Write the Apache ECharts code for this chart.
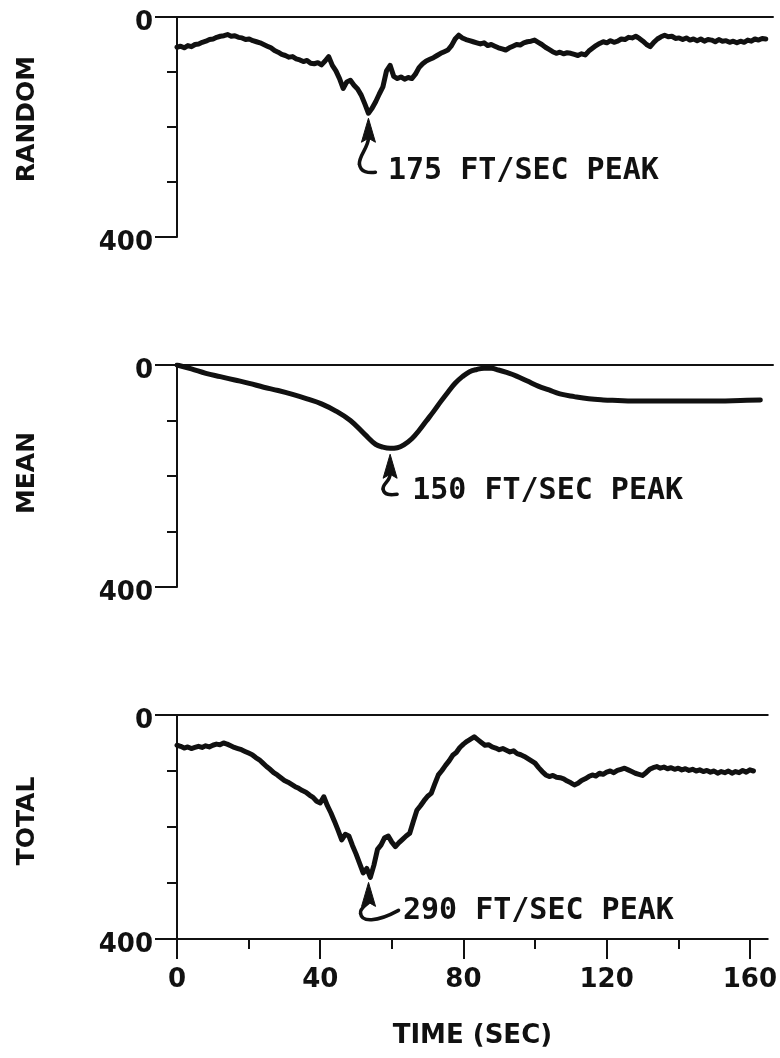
<!DOCTYPE html>
<html>
<head>
<meta charset="utf-8">
<script src="https://cdn.jsdelivr.net/npm/echarts@6/dist/echarts.min.js"></script>
<style>
  html, body { margin: 0; padding: 0; background: #fff; }
  #chart { width: 780px; height: 1058px; }
</style>
</head>
<body>
<div id="chart"></div>
<script>
// Velocity traces (ft/sec), one sample per second starting at t = 0
const SAMPLE_SEC = 1;

const randomVel = [
  55, 53, 56, 52, 54, 50, 49, 46, 44, 41, 40, 37, 35, 34, 32, 35, 34, 37, 38, 41,
  40, 43, 45, 47, 50, 53, 56, 61, 64, 68, 70, 73, 72, 76, 78, 81, 79, 84, 85, 83,
  87, 80, 72, 88, 98, 112, 130, 118, 115, 124, 131, 142, 158, 175, 166, 154, 140, 127, 98, 88,
  108, 112, 109, 113, 110, 112, 104, 92, 85, 80, 77, 74, 70, 66, 63, 60, 52, 40, 33, 38,
  41, 43, 45, 47, 49, 47, 52, 50, 53, 56, 58, 60, 56, 53, 50, 51, 47, 45, 44, 42,
  46, 50, 55, 59, 63, 66, 64, 67, 65, 66, 68, 70, 67, 69, 62, 57, 52, 48, 45, 47,
  43, 46, 44, 40, 41, 37, 38, 35, 39, 44, 50, 54, 46, 40, 36, 33, 36, 35, 39, 38,
  41, 38, 42, 40, 43, 40, 44, 41, 42, 45, 41, 44, 43, 46, 44, 47, 44, 46, 42, 44,
  40, 42, 39, 40
];

const totalVel = [
  54, 56, 59, 57, 60, 58, 56, 58, 55, 57, 54, 52, 53, 50, 52, 55, 58, 60, 62, 65,
  68, 71, 76, 80, 86, 92, 97, 103, 107, 112, 117, 120, 124, 128, 131, 135, 138, 143, 147, 154,
  157, 146, 162, 175, 190, 206, 223, 213, 216, 233, 248, 265, 282, 274, 290, 268, 240, 232, 219, 216,
  227, 235, 228, 222, 216, 211, 190, 170, 162, 153, 145, 140, 123, 107, 99, 90, 82, 72, 67, 58,
  52, 47, 43, 39, 44, 49, 54, 53, 57, 59, 62, 60, 63, 66, 64, 69, 71, 74, 78, 82,
  86, 94, 101, 107, 110, 108, 111, 112, 114, 118, 121, 125, 122, 117, 114, 110, 107, 109, 104, 106,
  102, 100, 103, 99, 97, 95, 98, 101, 104, 106, 108, 103, 97, 94, 92, 95, 93, 96, 94, 97,
  95, 98, 96, 99, 97, 100, 98, 101, 99, 102, 100, 104, 101, 103, 100, 104, 101, 103, 99, 102,
  98, 100
];

// Mean velocity is a smooth curve, sampled at irregular times
const meanTime = [0, 4, 8, 12, 16, 20, 24, 28, 32, 36, 40, 44, 48, 52, 55, 57, 59, 61, 63, 65,
  67, 69, 71, 73, 75, 77, 79, 81, 83, 85, 87, 89, 91, 94, 97, 100, 103, 106, 110, 114,
  118, 122, 126, 132, 138, 144, 150, 156, 161.5];
const meanVel = [0, 7, 15, 21, 27, 33, 40, 46, 53, 61, 70, 83, 100, 125, 143, 148, 150, 149, 143, 133,
  118, 101, 84, 66, 49, 33, 21, 12, 8, 6, 6, 9, 13, 20, 29, 38, 45, 52, 57, 61,
  63, 64, 65, 65, 65, 65, 65, 64, 63];

const panelNames = ['RANDOM', 'MEAN', 'TOTAL'];
const velRange = [0, 400];
const timeRange = [0, 165];
const timeTicks = [0, 40, 80, 120, 160];
const timeMinorTicks = [20, 60, 100, 140];

// Peak call-outs: the arrow points at the peak sample, the caption sits beside it
const peakNotes = [
  { panel: 0, text: '175 FT/SEC PEAK', peak: [53, 175], caption: [58.4, 280] },
  { panel: 1, text: '150 FT/SEC PEAK', peak: [59, 150], caption: [65.1, 227] },
  { panel: 2, text: '290 FT/SEC PEAK', peak: [53.5, 290], caption: [63.1, 350] }
];

const INK = '#111';
const LABEL_FONT = 'DejaVu Sans';
const grids = [
  { left: 177, top: 17, width: 596, height: 220 },
  { left: 177, top: 365, width: 596, height: 222 },
  { left: 177, top: 715, width: 596, height: 224 }
];
const nameShift = [16, 6, 12];

const chart = echarts.init(document.getElementById('chart'), null, { renderer: 'canvas' });

const xAxes = grids.map((g, i) => ({
  gridIndex: i, type: 'value', min: timeRange[0], max: timeRange[1], position: 'top',
  axisLine: { show: true, onZero: false, lineStyle: { color: INK, width: 2 } },
  axisTick: { show: false }, axisLabel: { show: false }, splitLine: { show: false }
}));
// time axis under the last panel: major ticks with labels, then minor ticks
xAxes.push({
  gridIndex: 2, type: 'value', min: timeRange[0], max: timeRange[1], position: 'bottom',
  axisLine: { show: true, onZero: false, lineStyle: { color: INK, width: 2 } },
  axisTick: { show: true, customValues: timeTicks, length: 20, lineStyle: { color: INK, width: 2 } },
  axisLabel: { show: true, customValues: timeTicks, margin: 28, color: INK,
    fontFamily: LABEL_FONT, fontWeight: 'bold', fontSize: 26 },
  splitLine: { show: false },
  name: 'TIME (SEC)', nameLocation: 'middle', nameGap: 84,
  nameTextStyle: { color: INK, fontFamily: LABEL_FONT, fontWeight: 'bold', fontSize: 26 }
});
xAxes.push({
  gridIndex: 2, type: 'value', min: timeRange[0], max: timeRange[1], position: 'bottom',
  axisLine: { show: false, onZero: false },
  axisTick: { show: true, customValues: timeMinorTicks, length: 10, lineStyle: { color: INK, width: 2 } },
  axisLabel: { show: false }, splitLine: { show: false }
});

const yAxes = grids.map((g, i) => ({
  gridIndex: i, type: 'value', min: velRange[0], max: velRange[1], interval: 400, inverse: true,
  axisLine: { show: true, onZero: false, lineStyle: { color: INK, width: 2 } },
  axisTick: { show: true, length: 22, lineStyle: { color: INK, width: 2 } },
  minorTick: { show: true, splitNumber: 4, length: 10, lineStyle: { color: INK, width: 2 } },
  axisLabel: { margin: 24, formatter: '{v|{value}}',
    rich: { v: { color: INK, fontFamily: LABEL_FONT, fontWeight: 'bold', fontSize: 26,
      padding: [12, 0, 0, 0] } } },
  splitLine: { show: false }, minorSplitLine: { show: false },
  name: panelNames[i], nameLocation: 'middle', nameGap: 137, nameRotate: 90,
  nameTextStyle: { color: INK, fontFamily: LABEL_FONT, fontWeight: 'bold', fontSize: 25,
    padding: [0, 0, 0, nameShift[i]] }
}));

const lineSeries = (data, idx, width, smooth) => ({
  type: 'line', xAxisIndex: idx, yAxisIndex: idx, data, showSymbol: false, symbol: 'none',
  smooth: smooth, lineStyle: { color: INK, width: width, join: 'round', cap: 'round' },
  silent: true, animation: false
});

chart.setOption({
  backgroundColor: '#fff',
  animation: false,
  grid: grids,
  xAxis: xAxes,
  yAxis: yAxes,
  series: [
    lineSeries(randomVel.map((v, i) => [i * SAMPLE_SEC, v]), 0, 5, false),
    lineSeries(meanTime.map((t, i) => [t, meanVel[i]]), 1, 5, 0.4),
    lineSeries(totalVel.map((v, i) => [i * SAMPLE_SEC, v]), 2, 5, false)
  ]
});

// Hook-shaped arrow shafts as two cubic segments each, in pixels relative to the tip:
// [x1, y1, cpx1, cpy1, cpx2, cpy2, x2, y2]
const shafts = [
  [[0, 20, 0, 29, -10, 38, -9, 46], [-9, 46, -8, 54, 0, 55, 7, 54]],
  [[0, 20, 0, 27, -8, 30, -7, 35], [-7, 35, -6, 41, 0, 41, 7, 40]],
  [[0, 20, -3, 23, -9, 26, -8, 31], [-8, 31, -7, 40, 8, 40, 30, 28]]
];
const tipGap = [5, 6, 5];
const headPoints = [[0, 0], [-7, 24], [0, 20], [7, 24]];

const graphics = [];
peakNotes.forEach((n, k) => {
  const p = chart.convertToPixel({ gridIndex: n.panel }, n.peak);
  const c = chart.convertToPixel({ gridIndex: n.panel }, n.caption);
  const tx = p[0], ty = p[1] + tipGap[k];
  graphics.push({ type: 'polygon', x: tx, y: ty, shape: { points: headPoints },
    style: { fill: INK, stroke: INK, lineWidth: 1 }, silent: true });
  shafts[k].forEach(s => {
    graphics.push({ type: 'bezierCurve', x: tx, y: ty,
      shape: { x1: s[0], y1: s[1], cpx1: s[2], cpy1: s[3], cpx2: s[4], cpy2: s[5], x2: s[6], y2: s[7] },
      style: { fill: null, stroke: INK, lineWidth: 3.5, lineCap: 'round' }, silent: true });
  });
  graphics.push({ type: 'text', x: c[0], y: c[1],
    style: { text: n.text, fill: INK, font: 'bold 30px "DejaVu Sans Mono"',
      textAlign: 'left', textVerticalAlign: 'middle' }, silent: true });
});
chart.setOption({ graphic: graphics });
</script>
</body>
</html>
